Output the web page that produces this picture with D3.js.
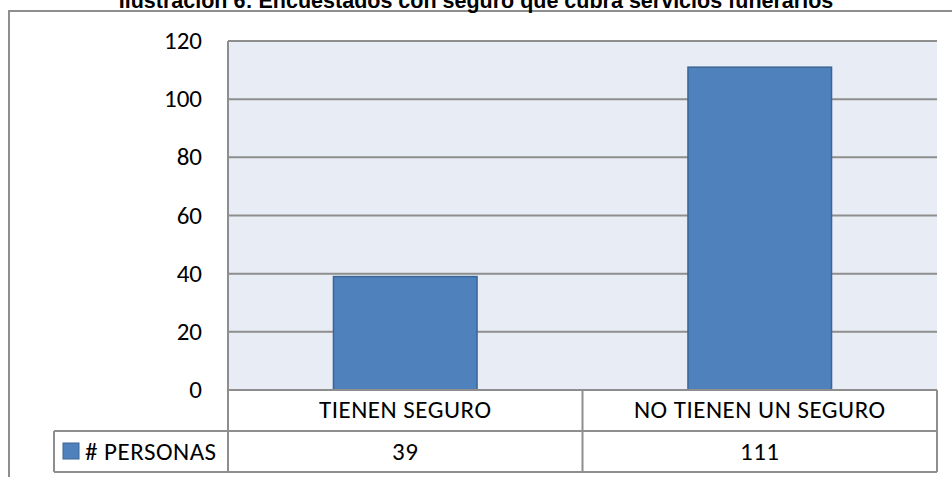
<!DOCTYPE html>
<html>
  <head>
    <meta charset="utf-8">
    <title></title>
    <script src="https://d3js.org/d3.v7.min.js"></script>
  </head>

  <style>
    body {
      margin: 0;
      background-color: white;
    }

    .title {
      font-family: 'Liberation Sans', Arial, sans-serif;
      font-weight: bold;
      font-size: 21.5px;
      text-anchor: middle;
      fill: black;
    }

    .lbl {
      font-family: Carlito, Calibri, Lato, sans-serif;
      fill: black;
    }

    .tbltxt {
      font-size: 25px;
      letter-spacing: 0.5px;
    }
  </style>

  <body>
    <div id="chart"></div>
    <script>

    var chartTitle = 'Ilustración 6: Encuestados con seguro que cubra servicios funerarios';
    var seriesName = '# PERSONAS';
    var categories = ['TIENEN SEGURO', 'NO TIENEN UN SEGURO'];
    var personas = [39, 111];
    var yTicks = [0, 20, 40, 60, 80, 100, 120];

    var width = 952;
    var height = 477;
    var plot = { left: 228, right: 937, top: 41, bottom: 390 };
    var rowH = 41;
    var gridColor = '#8e8e8e';

    var svg = d3.select('#chart').append('svg')
      .attr('width', width)
      .attr('height', height);

    // outer frame (only top + left visible in the crop)
    svg.append('path')
      .attr('d', 'M9,' + (height + 5) + 'V11H' + (width + 5))
      .attr('fill', 'none')
      .attr('stroke', gridColor)
      .attr('stroke-width', 2);

    svg.append('text')
      .attr('class', 'title')
      .attr('x', 476)
      .attr('y', 8)
      .text(chartTitle);

    var yScale = d3.scaleLinear()
      .domain([0, 120])
      .range([plot.bottom, plot.top]);

    var xScale = d3.scaleBand()
      .domain(categories)
      .range([plot.left, plot.right]);

    var barW = xScale.bandwidth() * 0.405;

    // plot background
    svg.append('rect')
      .attr('x', plot.left)
      .attr('y', plot.top)
      .attr('width', plot.right - plot.left)
      .attr('height', plot.bottom - plot.top)
      .attr('fill', '#e8ecf4');

    // gridlines
    svg.append('g').selectAll('line')
      .data(yTicks)
      .enter().append('line')
      .attr('x1', plot.left)
      .attr('x2', plot.right)
      .attr('y1', function(d){ return yScale(d); })
      .attr('y2', function(d){ return yScale(d); })
      .attr('stroke', gridColor)
      .attr('stroke-width', 2);

    // y axis labels
    svg.append('g').selectAll('text')
      .data(yTicks)
      .enter().append('text')
      .attr('class', 'lbl')
      .attr('x', 202)
      .attr('y', function(d){ return yScale(d) + 8; })
      .attr('text-anchor', 'end')
      .style('font-size', '25px')
      .text(function(d){ return d; });

    // bars
    svg.append('g').selectAll('rect')
      .data(personas)
      .enter().append('rect')
      .attr('x', function(d, i){ return xScale(categories[i]) + xScale.bandwidth() / 2 - barW / 2; })
      .attr('y', function(d){ return yScale(d); })
      .attr('width', barW)
      .attr('height', function(d){ return plot.bottom - yScale(d); })
      .attr('fill', '#4f81bd')
      .attr('stroke', '#3c6596')
      .attr('stroke-width', 1.5);

    // redraw bottom axis line over bars
    svg.append('line')
      .attr('x1', plot.left).attr('x2', plot.right)
      .attr('y1', plot.bottom).attr('y2', plot.bottom)
      .attr('stroke', gridColor).attr('stroke-width', 2);

    // left axis line
    svg.append('line')
      .attr('x1', plot.left).attr('x2', plot.left)
      .attr('y1', plot.top).attr('y2', plot.bottom + rowH * 2)
      .attr('stroke', gridColor).attr('stroke-width', 2);

    // data table
    var tbl = svg.append('g');
    var legendLeft = 54;
    var row1 = plot.bottom, row2 = plot.bottom + rowH, row3 = plot.bottom + rowH * 2;

    tbl.append('path')
      .attr('d', 'M' + legendLeft + ',' + row2 + 'H' + plot.right +
        'M' + legendLeft + ',' + row3 + 'H' + plot.right +
        'M' + legendLeft + ',' + row2 + 'V' + row3 +
        'M' + plot.right + ',' + row1 + 'V' + row3 +
        'M' + (xScale(categories[1])) + ',' + row1 + 'V' + row3)
      .attr('fill', 'none')
      .attr('stroke', gridColor)
      .attr('stroke-width', 2);

    tbl.selectAll('.cat')
      .data(categories)
      .enter().append('text')
      .attr('class', 'lbl tbltxt cat')
      .attr('x', function(d){ return xScale(d) + xScale.bandwidth() / 2; })
      .attr('y', row1 + 28)
      .attr('text-anchor', 'middle')
      .text(function(d){ return d; });

    tbl.selectAll('.val')
      .data(personas)
      .enter().append('text')
      .attr('class', 'lbl tbltxt val')
      .attr('x', function(d, i){ return xScale(categories[i]) + xScale.bandwidth() / 2; })
      .attr('y', row2 + 29)
      .attr('text-anchor', 'middle')
      .text(function(d){ return d; });

    tbl.append('rect')
      .attr('x', 63)
      .attr('y', row2 + 12)
      .attr('width', 16)
      .attr('height', 16)
      .attr('fill', '#4f81bd')
      .attr('stroke', '#3c6596')
      .attr('stroke-width', 1);

    tbl.append('text')
      .attr('class', 'lbl tbltxt')
      .attr('x', 85)
      .attr('y', row2 + 29)
      .text(seriesName);

    </script>
  </body>
</html>
